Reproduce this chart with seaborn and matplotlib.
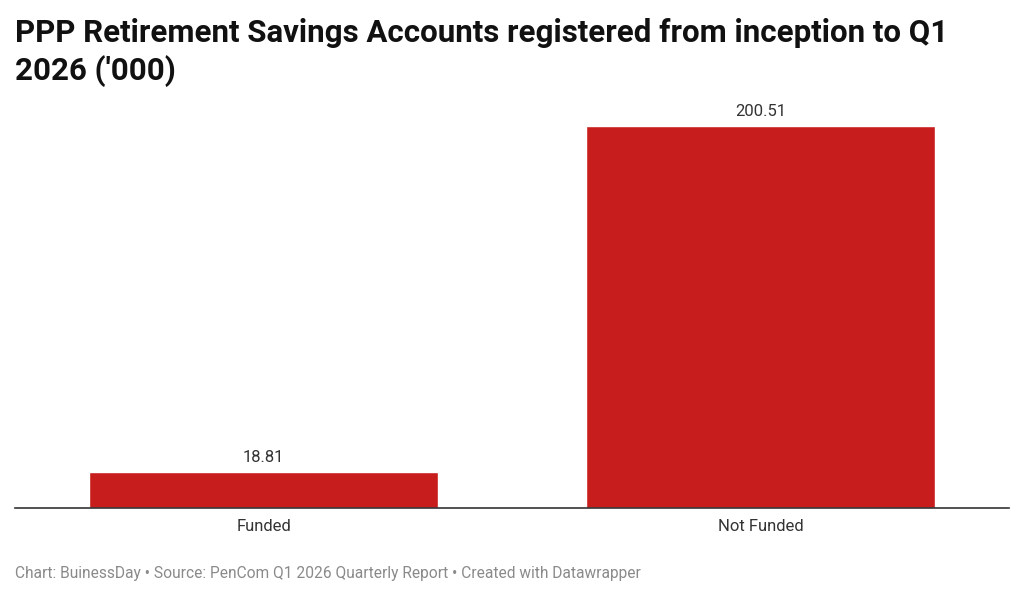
import numpy as np
import pandas as pd
import seaborn as sns
import matplotlib.pyplot as plt

# data
categories = ["Funded", "Not Funded"]
accounts = [18.81, 200.51]

df = pd.DataFrame({"status": categories, "accounts": accounts})

sns.set_theme(style="white")
plt.rcParams["font.family"] = ["Roboto", "DejaVu Sans"]

fig = plt.figure(figsize=(10.24, 5.97), dpi=100)
ax = fig.add_axes([15 / 1024, 89 / 597, 994 / 1024, 408 / 597])

sns.barplot(data=df, x="status", y="accounts", color="#c71e1d",
            width=0.703, saturation=1, ax=ax)

ax.set_xlim(-0.5, 1.5)
ax.set_ylim(0, 214.2)
ax.set_xlabel("")
ax.set_ylabel("")
ax.set_yticks([])
for s in ["top", "right", "left"]:
    ax.spines[s].set_visible(False)
ax.spines["bottom"].set_color("#333333")
ax.spines["bottom"].set_linewidth(1.2)
ax.tick_params(axis="x", length=0, pad=8, labelsize=12, labelcolor="#333333")

for i, v in enumerate(accounts):
    ax.annotate(f"{v:.2f}", (i, v), xytext=(0, 5), textcoords="offset points",
                ha="center", va="bottom", fontsize=12, color="#333333")

fig.text(15 / 1024, 1 - 18 / 597,
         "PPP Retirement Savings Accounts registered from inception to Q1\n2026 ('000)",
         ha="left", va="top", fontsize=22.5, fontweight="bold", color="#111111",
         linespacing=1.27)

fig.text(15 / 1024, 1 - 578 / 597,
         "Chart: BuinessDay • Source: PenCom Q1 2026 Quarterly Report • Created with Datawrapper",
         ha="left", va="baseline", fontsize=11.2, color="#8a8a8a")

fig.savefig("out.png", dpi=100)
